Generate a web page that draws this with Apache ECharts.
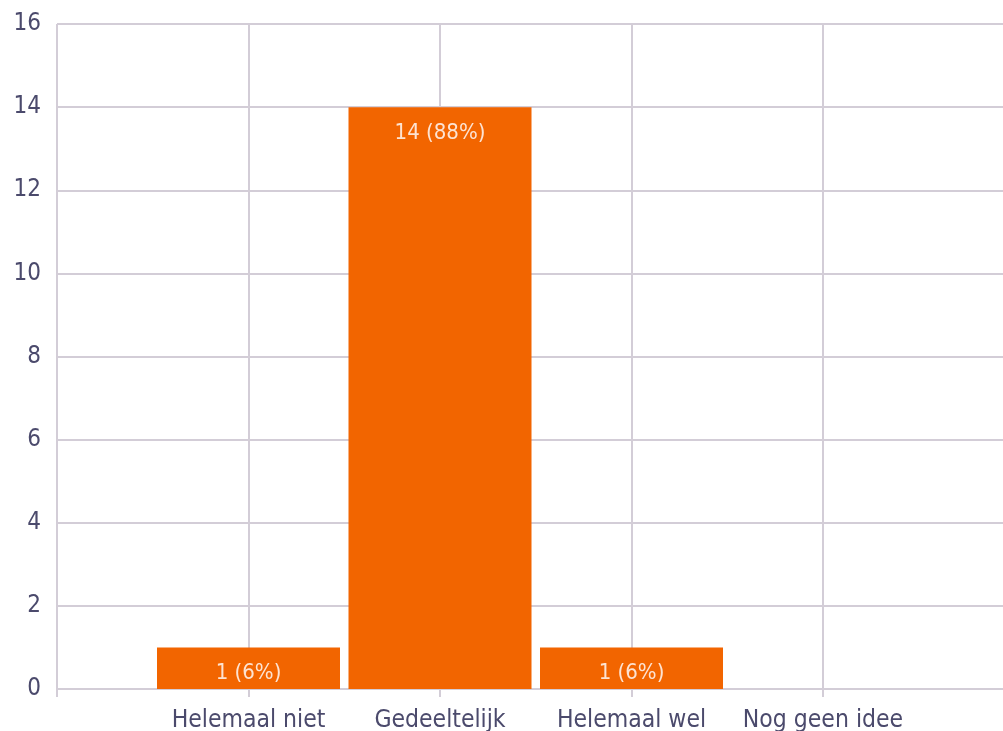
<!DOCTYPE html>
<html>
<head>
<meta charset="utf-8">
<style>
  html, body { margin: 0; padding: 0; background: #ffffff; }
  #chart { width: 1003px; height: 731px; }
</style>
<script src="https://cdn.jsdelivr.net/npm/echarts@6/dist/echarts.min.js"></script>
</head>
<body>
<div id="chart"></div>
<script>
// Answer categories and their response counts / shares
const categories = ['Helemaal niet', 'Gedeeltelijk', 'Helemaal wel', 'Nog geen idee'];
const counts = [1, 14, 1, 0];
const percents = [6, 88, 6, 0];
const yMax = 16;
const yStep = 2;

const gridColor = '#d3cdd7';
const textColor = '#4b4a6c';
const barColor = '#f26500';
const fontFamily = '"DejaVu Sans Condensed", "DejaVu Sans", sans-serif';

const chart = echarts.init(document.getElementById('chart'), null, { renderer: 'canvas' });

// One category slot is 191.5px wide; the x range runs one slot before the
// first answer and one slot past the last, so the plot runs off the right edge.
const slot = 191.5;

chart.setOption({
  animation: false,
  grid: {
    left: 57, width: slot * 5, top: 24, bottom: 42,
    containLabel: false,
    outerBoundsMode: 'none'
  },
  xAxis: {
    type: 'value',
    min: -1,
    max: 4,
    interval: 1,
    axisLine: { show: true, lineStyle: { color: gridColor, width: 2 } },
    axisTick: { show: true, length: 8, lineStyle: { color: gridColor, width: 2 } },
    splitLine: { show: true, lineStyle: { color: gridColor, width: 2 } },
    axisLabel: {
      color: textColor,
      fontFamily: fontFamily,
      fontSize: 24.5,
      margin: 19,
      formatter: function (v) {
        return Number.isInteger(v) && categories[v] !== undefined ? categories[v] : '';
      }
    }
  },
  yAxis: {
    type: 'value',
    min: 0,
    max: yMax,
    interval: yStep,
    axisLine: { show: true, lineStyle: { color: gridColor, width: 2 } },
    axisTick: { show: true, length: 8, lineStyle: { color: gridColor, width: 2 } },
    splitLine: { show: true, lineStyle: { color: gridColor, width: 2 } },
    axisLabel: {
      color: textColor,
      fontFamily: fontFamily,
      fontSize: 24,
      margin: 16
    }
  },
  series: [{
    type: 'bar',
    barWidth: 183,
    data: counts.map(function (c, i) { return [i, c]; }),
    itemStyle: { color: barColor },
    label: {
      show: true,
      position: 'insideTop',
      distance: 15,
      color: '#fde3d2',
      fontFamily: fontFamily,
      fontSize: 22,
      formatter: function (p) {
        const i = p.dataIndex;
        return counts[i] > 0 ? counts[i] + ' (' + percents[i] + '%)' : '';
      }
    }
  }]
});
</script>
</body>
</html>
